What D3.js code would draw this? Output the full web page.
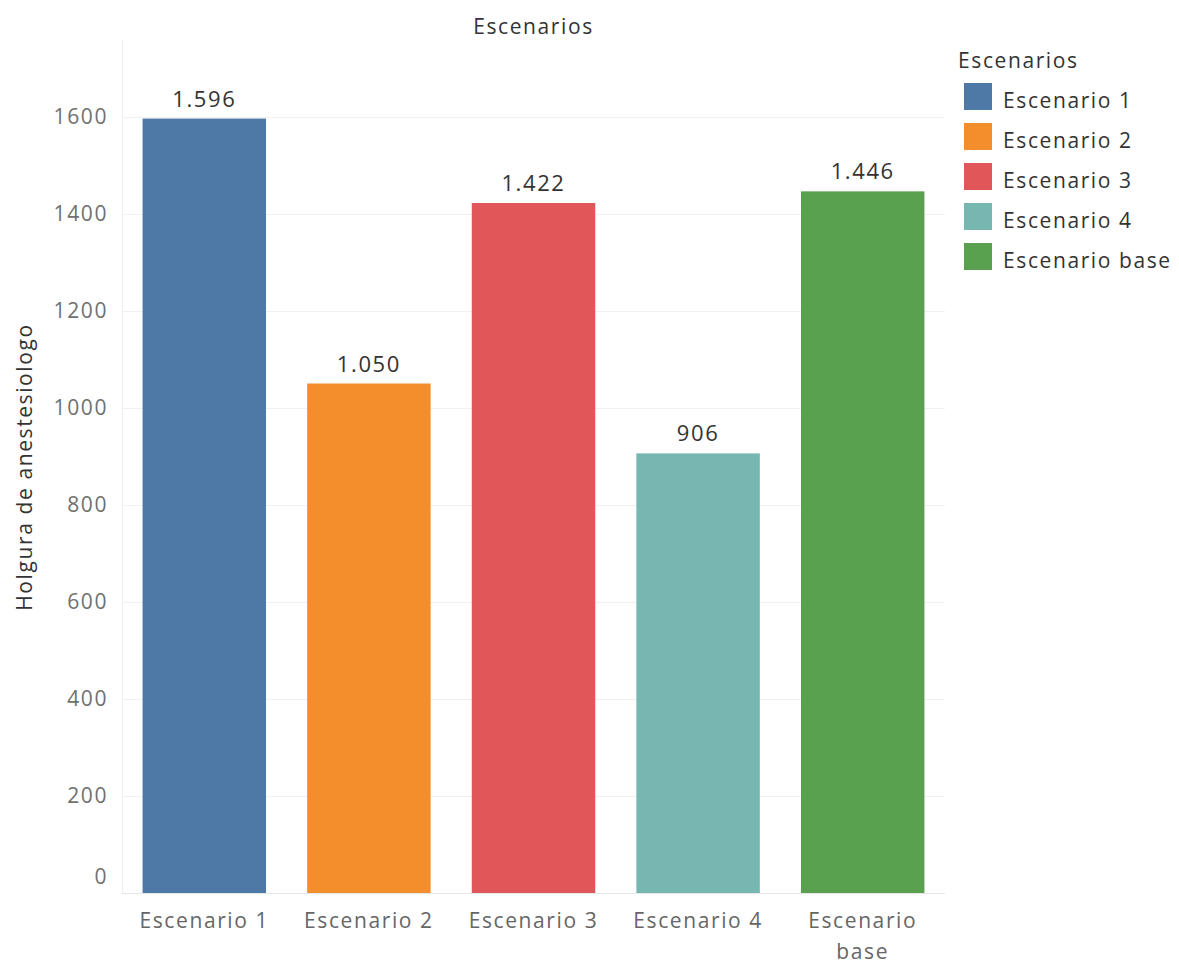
<!DOCTYPE html>
<html><head><meta charset="utf-8">
<script src="https://cdn.jsdelivr.net/npm/d3@7"></script>
<style>
body{margin:0;background:#fff;}
text{font-family:"Open Sans","Noto Sans",sans-serif;letter-spacing:1.6px;}
</style></head>
<body><svg id="c" width="1179" height="964"></svg>
<script>
const categories = ["Escenario 1","Escenario 2","Escenario 3","Escenario 4","Escenario base"];
const values = [1596, 1050, 1422, 906, 1446];
const colors = ["#4e79a7","#f28e2b","#e15759","#76b7b2","#59a14f"];
const yTicks = [0,200,400,600,800,1000,1200,1400,1600];
const chartTitle = "Escenarios";
const yTitle = "Holgura de anestesiologo";
const legendTitle = "Escenarios";

const svg = d3.select("#c");
const m = {l:122, r:945, t:39, b:893};
const x = d3.scaleBand().domain(categories).range([m.l, m.r]).paddingInner(0.25).paddingOuter(0.125);
const y = d3.scaleLinear().domain([0, 1760]).range([m.b, m.t]);
const color = d3.scaleOrdinal().domain(categories).range(colors);
const loc = d3.formatLocale({decimal:",", thousands:".", grouping:[3], currency:["",""]});
const fmt = loc.format(",d");

// gridlines
svg.append("g").selectAll("line").data(yTicks.filter(d=>d>0)).join("line")
  .attr("x1", m.l).attr("x2", m.r).attr("y1", d=>Math.round(y(d))+0.5).attr("y2", d=>Math.round(y(d))+0.5)
  .attr("stroke", "#f0f0f0").attr("stroke-width", 1);
// left axis line
svg.append("line").attr("x1", m.l+0.5).attr("x2", m.l+0.5).attr("y1", m.t).attr("y2", m.b)
  .attr("stroke", "#f0f0f0");

// y axis
const yAxis = d3.axisLeft(y).tickValues(yTicks).tickSize(0).tickPadding(14).tickFormat(d3.format("d"));
const gy = svg.append("g").attr("transform", `translate(${m.l},0)`).call(yAxis);
gy.select(".domain").remove();
gy.selectAll("text").attr("font-size", 21).attr("fill", "#707070").attr("font-family", null)
  .attr("y", d => d === 0 ? -16 : 0);

// bars
svg.append("g").selectAll("rect").data(categories).join("rect")
  .attr("x", d=>x(d)).attr("width", x.bandwidth())
  .attr("y", (d,i)=>y(values[i])).attr("height", (d,i)=>y(0)-y(values[i]))
  .attr("fill", d=>color(d));

// baseline
svg.append("line").attr("x1", m.l).attr("x2", m.r).attr("y1", m.b+0.5).attr("y2", m.b+0.5)
  .attr("stroke", "#e6e6e6");

// value labels
svg.append("g").selectAll("text").data(categories).join("text")
  .attr("x", d=>x(d)+x.bandwidth()/2).attr("y", (d,i)=>y(values[i])-12)
  .attr("text-anchor","middle").attr("font-size", 22).attr("fill", "#333")
  .text((d,i)=>fmt(values[i]));

// x axis
const xAxis = d3.axisBottom(x).tickSize(0).tickPadding(20);
const gx = svg.append("g").attr("transform", `translate(0,${m.b})`).call(xAxis);
gx.select(".domain").remove();
gx.selectAll("text").attr("font-size", 21).attr("fill", "#666").attr("font-family", null)
  .each(function(d){
    const t = d3.select(this);
    if (d === "Escenario base") {
      t.text(null);
      t.append("tspan").attr("x",0).attr("dy","0.71em").text("Escenario");
      t.append("tspan").attr("x",0).attr("dy","1.5em").text("base");
      t.attr("dy", null);
    }
  });

// chart title
svg.append("text").attr("x", (m.l+m.r)/2).attr("y", 34).attr("text-anchor","middle")
  .attr("font-size", 21).attr("fill", "#333").text(chartTitle);

// y title
svg.append("text").attr("transform", `translate(32,467) rotate(-90)`)
  .attr("text-anchor","middle").attr("font-size", 21).attr("fill", "#333").text(yTitle);

// legend
const lg = svg.append("g");
lg.append("text").attr("x", 958).attr("y", 68).attr("font-size", 21).attr("fill","#333").text(legendTitle);
const items = lg.selectAll("g.it").data(categories).join("g").attr("class","it")
  .attr("transform", (d,i)=>`translate(964,${83+i*40})`);
items.append("rect").attr("width", 28).attr("height", 27).attr("fill", d=>color(d));
items.append("text").attr("x", 39).attr("y", 25).attr("font-size", 21).attr("fill","#333").text(d=>d);
</script></body></html>
